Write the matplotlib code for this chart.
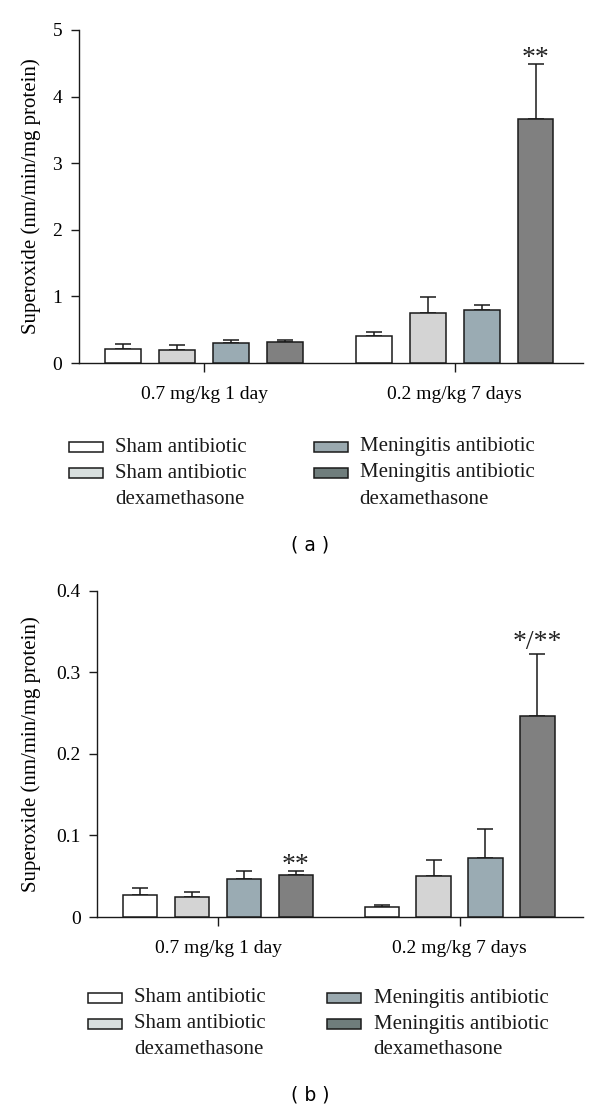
import numpy as np
import matplotlib
matplotlib.use("Agg")
import matplotlib.pyplot as plt
from matplotlib.patches import Rectangle

# ---------------- DATA ----------------
groups = ["0.7 mg/kg 1 day", "0.2 mg/kg 7 days"]
series = ["Sham antibiotic", "Sham antibiotic\ndexamethasone",
          "Meningitis antibiotic", "Meningitis antibiotic\ndexamethasone"]

# panel (a): mean and SEM, one row per group
a_mean = [[0.215, 0.19, 0.30, 0.31],
          [0.41, 0.755, 0.79, 3.67]]
a_sem = [[0.07, 0.075, 0.04, 0.03],
         [0.06, 0.23, 0.075, 0.82]]
a_ticks = [0, 1, 2, 3, 4, 5]
a_ticklabels = ["0", "1", "2", "3", "4", "5"]
a_marks = {(1, 3): "**"}

# panel (b)
b_mean = [[0.027, 0.025, 0.046, 0.052],
          [0.012, 0.050, 0.072, 0.246]]
b_sem = [[0.008, 0.006, 0.011, 0.005],
         [0.003, 0.020, 0.036, 0.077]]
b_ticks = [0, 0.1, 0.2, 0.3, 0.4]
b_ticklabels = ["0", "0.1", "0.2", "0.3", "0.4"]
b_marks = {(0, 3): "**", (1, 3): "*/**"}

ylabel = "Superoxide (nm/min/mg protein)"
# --------------------------------------

bar_colors = ["#ffffff", "#d4d4d4", "#9aabb3", "#808080"]
legend_colors = ["#ffffff", "#d8dfde", "#9aa9af", "#6f7d7c"]
edge = "#1a1a1a"
serif = "Liberation Serif"

W, H = 600, 1110
fig = plt.figure(figsize=(W / 100, H / 100), dpi=100)


def px(x, y):
    return x / W, 1 - y / H


def panel(rect, means, sems, ticks, ticklabels, marks, ylim):
    ax = fig.add_axes(rect)
    pitch, width = 0.215, 0.142
    offsets = (np.arange(4) - 1.5) * pitch
    for g in range(len(groups)):
        for s in range(4):
            x = g + offsets[s]
            ax.bar(x, means[g][s], width=width, color=bar_colors[s],
                   edgecolor=edge, linewidth=1.1, zorder=3)
            ax.errorbar(x, means[g][s], yerr=[[0], [sems[g][s]]], fmt="none",
                        ecolor=edge, elinewidth=1.1, capsize=5.5,
                        capthick=1.1, zorder=2)
            if (g, s) in marks:
                lab = marks[(g, s)]
                dy = 3 if "/" in lab else -1
                ax.annotate(lab, (x, means[g][s] + sems[g][s]),
                            xytext=(0, dy), textcoords="offset points",
                            ha="center", va="baseline", fontsize=20,
                            family=serif, color="#222222")
    ax.set_xlim(-0.5, 1.51)
    ax.set_ylim(*ylim)
    ax.set_xticks(range(len(groups)))
    ax.set_xticklabels(groups, family=serif, fontsize=14)
    ax.set_yticks(ticks)
    ax.set_yticklabels(ticklabels, family=serif, fontsize=14)
    ax.tick_params(axis="x", direction="out", length=6.5, width=1, pad=10,
                   color=edge)
    ax.tick_params(axis="y", direction="out", length=6, width=1, pad=6,
                   color=edge)
    for sp in ["top", "right"]:
        ax.spines[sp].set_visible(False)
    for sp in ["left", "bottom"]:
        ax.spines[sp].set_linewidth(1)
        ax.spines[sp].set_color(edge)
    ax.set_ylabel(ylabel, family=serif, fontsize=15)
    return ax


def legend(x1, x2, rows):
    cols = [x1, x2]
    pos = [(0, 0), (0, 1), (1, 0), (1, 1)]
    for i, lab in enumerate(series):
        c, r = pos[i]
        x0 = cols[c]
        y0 = rows[r]
        fx, fy = px(x0, y0 + 5)
        fig.patches.append(Rectangle((fx, fy), 34 / W, 10 / H,
                                     transform=fig.transFigure,
                                     facecolor=legend_colors[i],
                                     edgecolor=edge, linewidth=1.1))
        lines = lab.split("\n")
        for k, t in enumerate(lines):
            tx, ty = px(x0 + 46, rows[r + k])
            fig.text(tx, ty, t, family=serif, fontsize=15, va="center",
                     ha="left", color="#1a1a1a")


# panel (a)
l, b = px(78.8, 363)
ax_a = panel([l, b, (582.7 - 78.8) / W, 333 / H], a_mean, a_sem,
             a_ticks, a_ticklabels, a_marks, (0, 5))
ax_a.yaxis.set_label_coords(-(78.8 - 41) / (582.7 - 78.8), 0.5)
legend(69, 313.5, [447, 473, 499])
fig.text(*px(310, 545), "( a )", family="DejaVu Sans", fontsize=13.5,
         ha="center", va="center")

# panel (b)
l, b = px(97.3, 917)
ax_b = panel([l, b, (582.7 - 97.3) / W, 326.3 / H], b_mean, b_sem,
             b_ticks, b_ticklabels, b_marks, (0, 0.4))
ax_b.yaxis.set_label_coords(-(97.3 - 41) / (582.7 - 97.3), 0.5)
legend(88, 327.5, [998, 1024, 1049])
fig.text(*px(310, 1095), "( b )", family="DejaVu Sans", fontsize=13.5,
         ha="center", va="center")

fig.savefig("out.png", dpi=100)
